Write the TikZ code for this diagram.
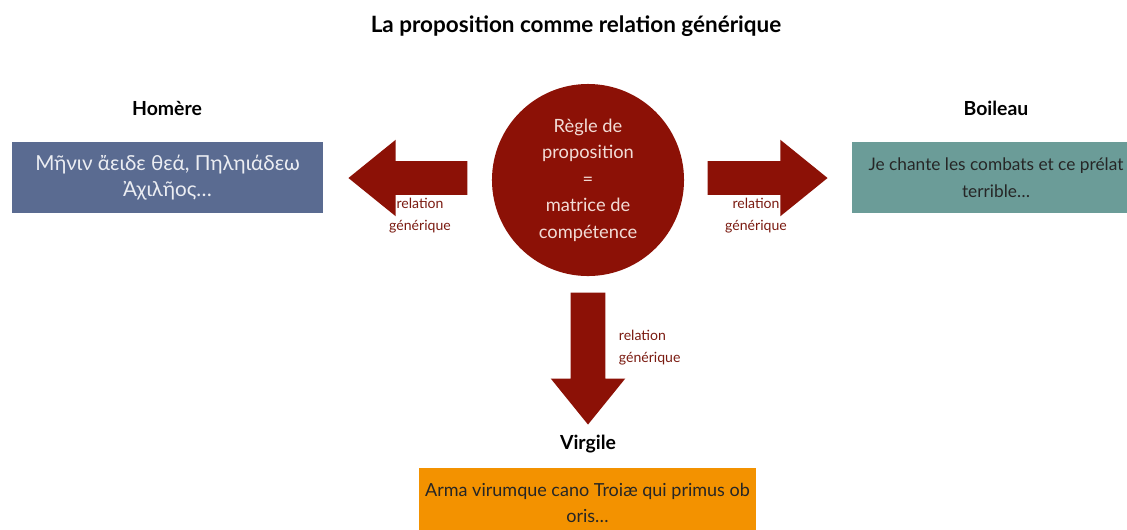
\documentclass[tikz,border=0pt]{standalone}
\usepackage{fontspec}
\setmainfont{Lato}
\usetikzlibrary{shapes.arrows}
\definecolor{rouge}{HTML}{8C1106}
\definecolor{rougetexte}{HTML}{7A1A10}
\definecolor{rose}{HTML}{F2DCD6}
\definecolor{bleugris}{HTML}{5A6B91}
\definecolor{vertgris}{HTML}{6B9C98}
\definecolor{orange}{HTML}{F39200}
\begin{document}
\begin{tikzpicture}[x=0.025cm,y=-0.025cm]
          \tikzstyle{titre}=[font=\bfseries\fontsize{16}{19}\selectfont]
          \tikzstyle{auteur}=[font=\bfseries\fontsize{13.8}{16}\selectfont]
          \tikzstyle{citation}=[rectangle,minimum width=7.775cm,minimum height=1.775cm,align=center,inner sep=0pt,font=\fontsize{12.8}{19}\selectfont]
          \tikzstyle{fleche}=[single arrow,fill=rouge,draw=none,inner sep=0pt,inner ysep=0.4125cm,single arrow head extend=0.5375cm,single arrow tip angle=78,single arrow head indent=0pt,anchor=tip]
          \tikzstyle{relation}=[align=center,text=rougetexte,font=\fontsize{10}{15.6}\selectfont]
          \useasboundingbox (0,0) rectangle (1127,529);
          \clip (0,0) rectangle (1127,529);
          \begin{scope}
              \node [titre] (titre) at (576,26) {La proposition comme relation générique};
              \node [circle,fill=rouge,minimum size=4.8cm,inner sep=0pt,align=center,text=rose,font=\fontsize{13}{18.8}\selectfont] (regle) at (588,180) {Règle de\\proposition\\=\\matrice de\\compétence};
              \node [auteur] (homere) at (167,108) {Homère};
              \node [auteur] (boileau) at (996,108) {Boileau};
              \node [auteur] (virgile) at (588,444) {Virgile};
              \node [citation,fill=bleugris,text=white!88!bleugris,font=\fontsize{14.7}{19}\selectfont] (iliade) at (167.5,177.5) {Μῆνιν ἄειδε θεά, Πηληιάδεω\\Ἀχιλῆος…};
              \node [citation,minimum width=7.2cm,fill=vertgris,text=black!85,font=\fontsize{12.3}{19}\selectfont] (lutrin) at (996,177.5) {Je chante les combats et ce prélat\\terrible…};
              \node [citation,minimum width=8.425cm,fill=orange,text=black!85] (eneide) at (587.5,503) {Arma virumque cano Troiæ qui primus ob\\oris…};
              \node [fleche,rotate=180,minimum height=2.975cm] (versHomere) at (348,178) {};
              \node [fleche,minimum height=3cm] (versBoileau) at (828,178) {};
              \node [fleche,rotate=-90,minimum height=3.3cm,inner ysep=0.425cm,single arrow head extend=0.5cm] (versVirgile) at (588,425) {};
              \node [relation] (rel1) at (420,216) {relation\\générique};
              \node [relation] (rel2) at (756,216) {relation\\générique};
              \node [relation,anchor=west,align=left] (rel3) at (614,348) {relation\\générique};
          \end{scope}
        \end{tikzpicture}
\end{document}
